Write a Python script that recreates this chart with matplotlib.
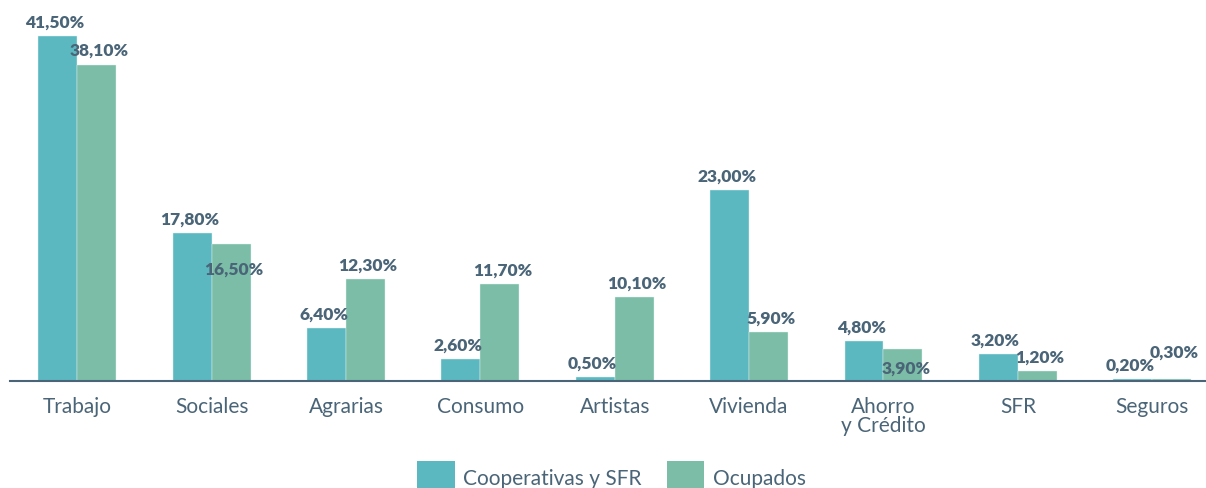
import numpy as np
import matplotlib
matplotlib.use("Agg")
import matplotlib.pyplot as plt
from matplotlib.patches import Patch

categories = ["Trabajo", "Sociales", "Agrarias", "Consumo", "Artistas",
              "Vivienda", "Ahorro\ny Crédito", "SFR", "Seguros"]
cooperativas = [41.5, 17.8, 6.4, 2.6, 0.5, 23.0, 4.8, 3.2, 0.2]
ocupados = [38.1, 16.5, 12.3, 11.7, 10.1, 5.9, 3.9, 1.2, 0.3]
series_names = ["Cooperativas y SFR", "Ocupados"]

# label vertical offsets (points) for the ones that sit inside/above the bar
coop_dy = [10.5] * 9
ocup_dy = [10.5, -18, 10.5, 10.5, 10.5, 10.5, -13.5, 10.5, 19]

TEAL = "#5BB8C1"
GREEN = "#7BBDA6"
TEXT = "#4A6578"
FONT = "Lato"


def fmt(v):
    return f"{v:.2f}".replace(".", ",") + "%"


fig = plt.figure(figsize=(12.06, 4.89), dpi=100)
ax = fig.add_axes([10 / 1206, 107 / 489, 1196 / 1206, 382 / 489])

x = np.arange(len(categories))
w = 0.29
b1 = ax.bar(x - w / 2, cooperativas, w, color=TEAL, edgecolor="#E6F2F2", linewidth=0.3)
b2 = ax.bar(x + w / 2, ocupados, w, color=GREEN, edgecolor="#E6F2F2", linewidth=0.3)

for rect, v, dy in zip(b1, cooperativas, coop_dy):
    ax.annotate(fmt(v), (rect.get_x() + rect.get_width() / 2, v), xytext=(-2, dy),
                textcoords="offset points", ha="center", va="center",
                fontsize=12.5, fontweight="heavy", color=TEXT, family=FONT)
for rect, v, dy in zip(b2, ocupados, ocup_dy):
    ax.annotate(fmt(v), (rect.get_x() + rect.get_width() / 2, v), xytext=(2, dy),
                textcoords="offset points", ha="center", va="center",
                fontsize=12.5, fontweight="heavy", color=TEXT, family=FONT)

ax.set_xlim(-0.5, 8.4)
ax.set_ylim(0, 46)
ax.set_xticks(x)
ax.set_xticklabels(categories, fontsize=15, color=TEXT, family=FONT, linespacing=0.95)
ax.tick_params(axis="x", length=0, pad=11)
ax.set_yticks([])
for s in ["top", "right", "left"]:
    ax.spines[s].set_visible(False)
ax.spines["bottom"].set_color(TEXT)
ax.spines["bottom"].set_linewidth(1.5)

handles = [Patch(facecolor=TEAL), Patch(facecolor=GREEN)]
fig.legend(handles, series_names, loc="center", bbox_to_anchor=(0.507, 0.022),
           ncol=2, frameon=False, fontsize=15, handlelength=1.8, handleheight=2.0,
           columnspacing=1.2, handletextpad=0.4, labelcolor=TEXT,
           prop={"family": FONT, "size": 15})

fig.savefig("out.png", dpi=100)
